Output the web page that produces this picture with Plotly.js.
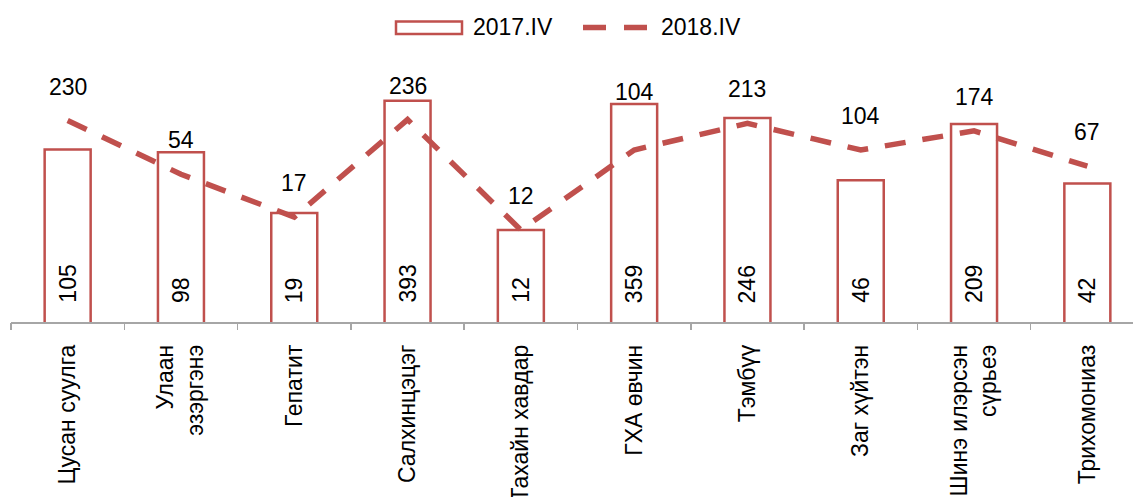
<!DOCTYPE html>
<html>
<head>
<meta charset="utf-8">
<script src="https://cdn.plot.ly/plotly-3.0.1.min.js"></script>
<style>
html,body{margin:0;padding:0;background:#fff;}
#chart{width:1133px;height:497px;}
</style>
</head>
<body>
<div id="chart"></div>
<script>
const categories = [
  "Цусан суулга",
  "Улаан<br>эзэргэнэ",
  "Гепатит",
  "Салхинцэцэг",
  "Тахайн хавдар",
  "ГХА өвчин",
  "Тэмбүү",
  "Заг хүйтэн",
  "Шинэ илэрсэн<br>сүрьеэ",
  "Трихомониаз"
];
const values2017 = [105, 98, 19, 393, 12, 359, 246, 46, 209, 42];
const values2018 = [230, 54, 17, 236, 12, 104, 213, 104, 174, 67];
const seriesNames = ["2017.IV", "2018.IV"];

const RED = "#C0504D";
const FONT = "Liberation Sans, Arial, sans-serif";
const FS = 23;

const W = 1133, H = 497;
const margin = {l: 11, r: 0, t: 40, b: 175, pad: 0};
const yRange = [0, 3.306];
const plotW = W - margin.l - margin.r;
const plotH = H - margin.t - margin.b;
const pxPerDec = plotH / (yRange[1] - yRange[0]);

// helpers: pixel position -> paper coordinates (for legend layout only)
const px2x = p => (p - margin.l) / plotW;
const px2y = p => (H - margin.b - p) / plotH;

const idx = categories.map((_, i) => i);

const barTrace = {
  type: "bar",
  name: seriesNames[0],
  x: idx,
  y: values2017,
  width: 0.406,
  marker: {color: "#ffffff", line: {color: RED, width: 2.5}},
  hoverinfo: "skip",
  showlegend: false
};
const lineTrace = {
  type: "scatter",
  mode: "lines",
  name: seriesNames[1],
  x: idx,
  y: values2018,
  line: {color: RED, width: 5.5, dash: "21px,17px"},
  hoverinfo: "skip",
  showlegend: false
};

const annotations = [];
idx.forEach(i => {
  annotations.push({
    x: i, y: 0, xref: "x", yref: "y",
    text: String(values2017[i]),
    textangle: -90,
    showarrow: false,
    xanchor: "center", yanchor: "bottom",
    yshift: 17,
    font: {family: FONT, size: FS, color: "#000"}
  });
  const lineLog = Math.log10(values2018[i]);
  const barLog = Math.log10(values2017[i]);
  const linePx = lineLog * pxPerDec + 34;
  const barPx = barLog * pxPerDec + 12;
  const useLine = linePx >= barPx;
  annotations.push({
    x: i, y: useLine ? lineLog : barLog, xref: "x", yref: "y",
    text: String(values2018[i]),
    showarrow: false,
    xanchor: "center", yanchor: "middle",
    yshift: useLine ? 34 : 12,
    font: {family: FONT, size: FS, color: "#000"}
  });
});

// custom legend
const legY = 27.5;
annotations.push({
  xref: "paper", yref: "paper", x: px2x(471), y: px2y(legY),
  xanchor: "left", yanchor: "middle", showarrow: false,
  text: seriesNames[0], font: {family: FONT, size: FS, color: "#000"}
});
annotations.push({
  xref: "paper", yref: "paper", x: px2x(659), y: px2y(legY),
  xanchor: "left", yanchor: "middle", showarrow: false,
  text: seriesNames[1], font: {family: FONT, size: FS, color: "#000"}
});
const shapes = [
  {
    type: "rect", xref: "paper", yref: "paper",
    x0: px2x(396), x1: px2x(462), y0: px2y(34), y1: px2y(21.5),
    line: {color: RED, width: 2.5}, fillcolor: "#ffffff"
  },
  {
    type: "line", xref: "paper", yref: "paper",
    x0: px2x(583), x1: px2x(648), y0: px2y(legY), y1: px2y(legY),
    line: {color: RED, width: 5.5, dash: "23px,18px"}
  }
];

const layout = {
  width: W, height: H,
  margin: margin,
  paper_bgcolor: "#fff",
  plot_bgcolor: "#fff",
  font: {family: FONT, size: FS, color: "#000"},
  showlegend: false,
  xaxis: {
    type: "linear",
    range: [-0.5, -0.5 + plotW / 113.3],
    tickmode: "array",
    tickvals: idx,
    ticktext: categories,
    tickangle: -90,
    showline: true,
    linecolor: "#A6A6A6",
    linewidth: 1.5,
    ticks: "",
    showgrid: false,
    zeroline: false,
    automargin: false,
    ticklabelstandoff: 12,
    tickfont: {family: FONT, size: FS, color: "#000"}
  },
  xaxis2: {
    overlaying: "x",
    matches: "x",
    tickmode: "array",
    tickvals: idx.concat([idx.length]).map(v => v - 0.5),
    ticks: "outside",
    ticklen: 7,
    tickwidth: 1.5,
    tickcolor: "#A6A6A6",
    showticklabels: false,
    showgrid: false,
    zeroline: false,
    automargin: false
  },
  yaxis: {
    type: "log",
    range: yRange,
    visible: false,
    showgrid: false,
    zeroline: false,
    fixedrange: true
  },
  annotations: annotations,
  shapes: shapes,
  bargap: 0
};

const tickTrace = {
  type: "scatter", mode: "markers", x: [0], y: [1],
  xaxis: "x2", yaxis: "y", marker: {opacity: 0}, showlegend: false, hoverinfo: "skip"
};

Plotly.newPlot("chart", [barTrace, lineTrace, tickTrace], layout, {displayModeBar: false, staticPlot: true});
</script>
</body>
</html>
